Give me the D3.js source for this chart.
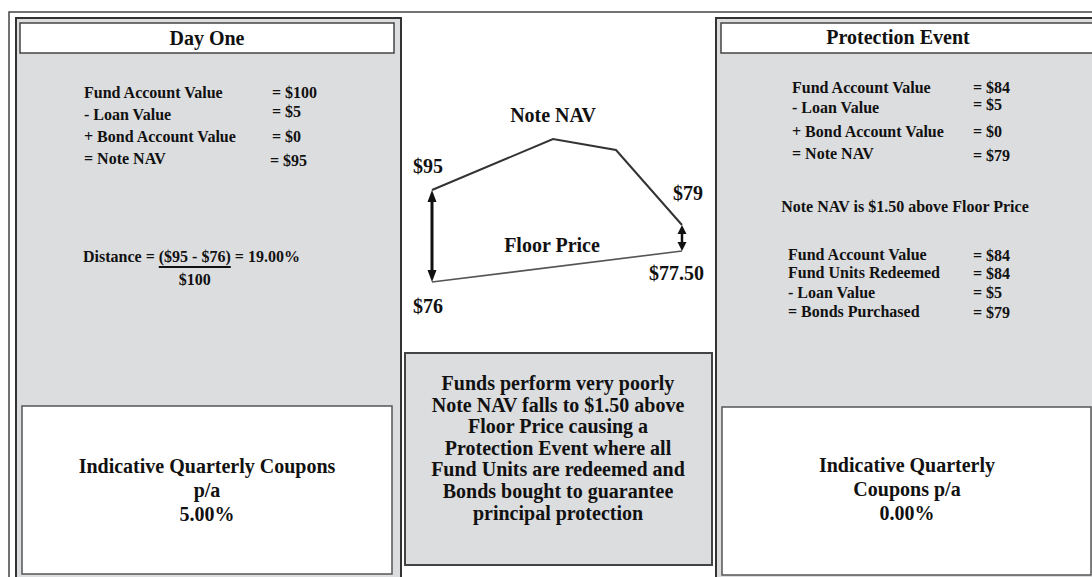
<!DOCTYPE html>
<html><head><meta charset="utf-8">
<script src="https://cdn.jsdelivr.net/npm/d3@7"></script>
<style>
html,body{margin:0;padding:0;background:#fff;}
svg{display:block;font-family:"Liberation Serif","Times New Roman",serif;font-weight:bold;}
</style></head>
<body>
<svg id="c" width="1092" height="577"></svg>
<script>
// ---- data ----
const panelTitles = ["Day One", "Protection Event"];
const dayOneLabels = ["Fund Account Value", "- Loan Value", "+ Bond Account Value", "= Note NAV"];
const dayOneValues = ["= $100", "= $5", "= $0", "= $95"];
const protLabels = ["Fund Account Value", "- Loan Value", "+ Bond Account Value", "= Note NAV"];
const protValues = ["= $84", "= $5", "= $0", "= $79"];
const protNote = "Note NAV is $1.50 above Floor Price";
const redeemLabels = ["Fund Account Value", "Fund Units Redeemed", "- Loan Value", "= Bonds Purchased"];
const redeemValues = ["= $84", "= $84", "= $5", "= $79"];
const distanceText = ["Distance = ", "($95 - $76)", " = 19.00%"];
const distanceDenom = "$100";
const couponLeft = ["Indicative Quarterly Coupons", "p/a", "5.00%"];
const couponRight = ["Indicative Quarterly", "Coupons p/a", "0.00%"];
const middleText = ["Funds perform very poorly", "Note NAV falls to $1.50 above", "Floor Price causing a",
  "Protection Event where all", "Fund Units are redeemed and", "Bonds bought to guarantee", "principal protection"];
// schematic diagram (diagram units 0-100, not to scale)
const navT = [0, 48.4, 73.6, 100];
const navLevel = [55, 80.5, 75, 37.5];
const floorT = [0, 100];
const floorLevel = [9, 24.5];
const navStartLabel = "$95", navEndLabel = "$79", floorStartLabel = "$76", floorEndLabel = "$77.50";
const seriesNames = ["Note NAV", "Floor Price"];

// ---- drawing ----
const svg = d3.select("#c");
const gray = "#dcdddf";
const ink = "#111";

// outer frame
svg.append("path").attr("d", "M9,577 L9,12 L1092,12").attr("fill", "none").attr("stroke", "#444").attr("stroke-width", 1.5);

function panel(x, w, titleX, titleW, title, boxX, boxW, boxY) {
  svg.append("rect").attr("x", x).attr("y", 18).attr("width", w).attr("height", 600)
    .attr("fill", gray).attr("stroke", "#333").attr("stroke-width", 2);
  svg.append("rect").attr("x", titleX).attr("y", 23).attr("width", titleW).attr("height", 30)
    .attr("fill", "#fff").attr("stroke", "#444").attr("stroke-width", 1.5);
  svg.append("rect").attr("x", boxX).attr("y", boxY).attr("width", boxW).attr("height", 168)
    .attr("fill", "#fff").attr("stroke", "#555").attr("stroke-width", 1.5);
}
panel(16, 385, 20, 374, panelTitles[0], 22, 370, 406);
panel(716, 420, 721, 420, panelTitles[1], 722, 369, 407);

function txt(x, y, s, size, anchor) {
  return svg.append("text").attr("x", x).attr("y", y).attr("font-size", size)
    .attr("text-anchor", anchor || "start").attr("fill", ink).text(s);
}
txt(207, 45, panelTitles[0], 20, "middle");
txt(898, 44, panelTitles[1], 20, "middle");

const small = 16;
// Day One list
const d1y = [98, 120, 142, 164], d1vy = [98, 117, 142, 166];
dayOneLabels.forEach((s, i) => txt(84, d1y[i], s, small));
dayOneValues.forEach((s, i) => txt(i === 3 ? 270 : 272, d1vy[i], s, small));
// distance formula
const dt = svg.append("text").attr("x", 83).attr("y", 262).attr("font-size", small).attr("fill", ink);
distanceText.forEach(s => dt.append("tspan").text(s));
const a0 = dt.node().getSubStringLength(0, distanceText[0].length);
const a1 = dt.node().getSubStringLength(distanceText[0].length, distanceText[1].length);
svg.append("line").attr("x1", 83 + a0).attr("x2", 83 + a0 + a1).attr("y1", 267).attr("y2", 267)
  .attr("stroke", ink).attr("stroke-width", 1.8);
txt(83 + a0 + a1 / 2, 285, distanceDenom, small, "middle");

// Protection event list
const p1y = [93, 113, 137, 159], p1vy = [93, 110, 137, 161];
protLabels.forEach((s, i) => txt(792, p1y[i], s, small));
protValues.forEach((s, i) => txt(973, p1vy[i], s, small));
txt(905, 212, protNote, small, "middle");
const r1y = [260, 278, 298, 317], r1vy = [261, 279, 298, 318];
redeemLabels.forEach((s, i) => txt(788, r1y[i], s, small));
redeemValues.forEach((s, i) => txt(973, r1vy[i], s, small));

// coupon boxes
couponLeft.forEach((s, i) => txt(207, 473 + i * 24, s, 20, "middle"));
couponRight.forEach((s, i) => txt(907, 472 + i * 24, s, 20, "middle"));

// middle box
svg.append("rect").attr("x", 405).attr("y", 353).attr("width", 307).attr("height", 212)
  .attr("fill", gray).attr("stroke", "#444").attr("stroke-width", 2);
middleText.forEach((s, i) => txt(558, 390 + i * 21.6, s, 20, "middle"));

// schematic chart
const xS = d3.scaleLinear().domain([0, 100]).range([432, 682]);
const yS = d3.scaleLinear().domain([0, 100]).range([300, 100]);
const line = d3.line().x(d => xS(d[0])).y(d => yS(d[1]));
svg.append("path").attr("d", line(navT.map((t, i) => [t, navLevel[i]])))
  .attr("fill", "none").attr("stroke", "#333").attr("stroke-width", 2);
svg.append("path").attr("d", line(floorT.map((t, i) => [t, floorLevel[i]])))
  .attr("fill", "none").attr("stroke", "#555").attr("stroke-width", 1.6);

function dblArrow(x, yTop, yBot, hw, hl, sw) {
  svg.append("line").attr("x1", x).attr("x2", x).attr("y1", yTop + hl - 1).attr("y2", yBot - hl + 1)
    .attr("stroke", "#111").attr("stroke-width", sw);
  svg.append("path").attr("d", `M${x},${yTop} L${x - hw},${yTop + hl} L${x + hw},${yTop + hl} Z`).attr("fill", "#111");
  svg.append("path").attr("d", `M${x},${yBot} L${x - hw},${yBot - hl} L${x + hw},${yBot - hl} Z`).attr("fill", "#111");
}
dblArrow(xS(navT[0]), yS(navLevel[0]), yS(floorLevel[0]), 4.5, 12, 3);
dblArrow(xS(navT[3]), yS(navLevel[3]), yS(floorLevel[1]), 4.5, 9, 2.5);

const lab = 20;
txt(xS(navT[1]), 122, seriesNames[0], lab, "middle");
txt(552, 252, seriesNames[1], lab, "middle");
txt(413, 173, navStartLabel, lab);
txt(673, 200, navEndLabel, lab);
txt(413, 313, floorStartLabel, lab);
txt(649, 280, floorEndLabel, lab);
</script>
</body></html>
